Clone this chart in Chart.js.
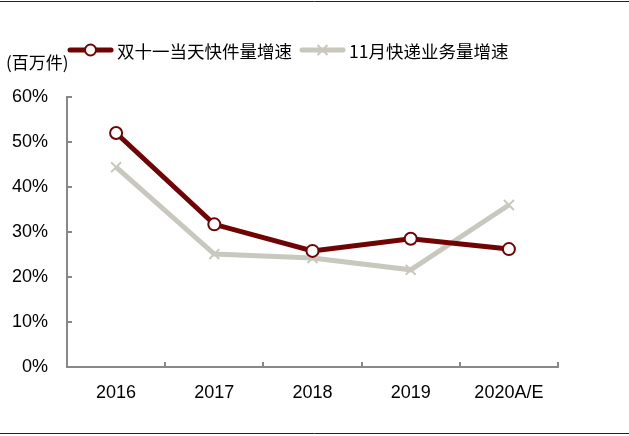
<!DOCTYPE html>
<html>
<head>
<meta charset="utf-8">
<script src="https://cdn.jsdelivr.net/npm/chart.js@4"></script>
<style>
  html, body { margin: 0; padding: 0; background: #fff; }
  #wrap { position: relative; width: 629px; height: 436px; }
</style>
</head>
<body>
<div id="wrap"><canvas id="c" width="629" height="436"></canvas></div>
<script>
// 双十一 vs 11月快递业务量增速
var years = ["2016", "2017", "2018", "2019", "2020A/E"];
var singlesDay = [52.0, 31.7, 25.8, 28.5, 26.2];
var novTotal = [44.4, 25.1, 24.2, 21.6, 36.0];
var seriesNames = ["双十一当天快件量增速", "11月快递业务量增速"];
var yTicks = [0, 10, 20, 30, 40, 50, 60];

var RED = "#700404", GRAY = "#c8c8be", AXIS = "#888888";
var FONT = "Arial, 'Liberation Sans', sans-serif";
var CJK = "'Noto Sans CJK SC', sans-serif";

// inward ticks, legend, unit label and frame lines
var decor = {
  id: "decor",
  afterDraw: function (chart) {
    var ctx = chart.ctx, a = chart.chartArea;
    var xs = chart.scales.x, ys = chart.scales.y;
    ctx.save();
    ctx.strokeStyle = AXIS; ctx.lineWidth = 2;
    ys.ticks.forEach(function (t, i) {
      var y = Math.round(ys.getPixelForTick(i));
      ctx.beginPath(); ctx.moveTo(a.left, y); ctx.lineTo(a.left + 5, y); ctx.stroke();
    });
    for (var i = 0; i <= years.length; i++) {
      var x = Math.round(xs.getPixelForValue(i - 0.5));
      ctx.beginPath(); ctx.moveTo(x, a.bottom); ctx.lineTo(x, a.bottom - 5); ctx.stroke();
    }
    // frame
    ctx.strokeStyle = "#5a0808"; ctx.lineWidth = 1;
    ctx.beginPath(); ctx.moveTo(0, 1.5); ctx.lineTo(629, 1.5); ctx.stroke();
    ctx.beginPath(); ctx.moveTo(0, 433.5); ctx.lineTo(629, 433.5); ctx.stroke();

    // unit label
    ctx.fillStyle = "#000"; ctx.font = "17px " + CJK; ctx.textBaseline = "middle"; ctx.textAlign = "left";
    ctx.fillText("(百万件)", 6, 63);

    // legend
    var items = [{ x: 68, ds: chart.data.datasets[0] }, { x: 300, ds: chart.data.datasets[1] }];
    items.forEach(function (it) {
      var ly = 50;
      ctx.strokeStyle = it.ds.borderColor; ctx.lineWidth = 5; ctx.lineCap = "round";
      ctx.beginPath(); ctx.moveTo(it.x + 2, ly); ctx.lineTo(it.x + 43, ly); ctx.stroke();
      var cx = it.x + 22.5;
      if (it.ds.pointStyle === "circle") {
        ctx.lineWidth = 2; ctx.fillStyle = "#fff";
        ctx.beginPath(); ctx.arc(cx, ly, 5.5, 0, Math.PI * 2); ctx.fill(); ctx.stroke();
      } else {
        ctx.lineWidth = 2; ctx.lineCap = "butt";
        ctx.beginPath();
        ctx.moveTo(cx - 5, ly - 5); ctx.lineTo(cx + 5, ly + 5);
        ctx.moveTo(cx + 5, ly - 5); ctx.lineTo(cx - 5, ly + 5);
        ctx.stroke();
      }
      ctx.fillStyle = "#000"; ctx.font = "17.5px " + CJK;
      ctx.fillText(it.ds.label, it.x + 49, ly + 1);
    });
    ctx.restore();
  }
};

new Chart(document.getElementById("c"), {
  type: "line",
  data: {
    labels: years,
    datasets: [
      { label: seriesNames[0], data: singlesDay, borderColor: RED, borderWidth: 5, order: 0,
        pointStyle: "circle", pointRadius: 6, pointBorderWidth: 2,
        pointBackgroundColor: "#fff", pointBorderColor: RED, tension: 0 },
      { label: seriesNames[1], data: novTotal, borderColor: GRAY, borderWidth: 5, order: 1,
        pointStyle: "crossRot", pointRadius: 7, pointBorderWidth: 2,
        pointBorderColor: GRAY, pointBackgroundColor: GRAY, tension: 0 }
    ]
  },
  options: {
    responsive: false, animation: false,
    layout: { padding: { left: 0, top: 97, right: 71, bottom: 0 } },
    plugins: { legend: { display: false }, tooltip: { enabled: false } },
    scales: {
      x: {
        offset: true,
        grid: { display: false, drawTicks: false },
        border: { color: AXIS, width: 2 },
        ticks: { color: "#000", font: { family: FONT, size: 18 }, padding: 15, maxRotation: 0 },
        afterFit: function (s) { s.height = 69; }
      },
      y: {
        min: 0, max: 60,
        afterBuildTicks: function (s) { s.ticks = yTicks.map(function (v) { return { value: v }; }); },
        grid: { display: false, drawTicks: false },
        border: { color: AXIS, width: 2 },
        ticks: { color: "#000", font: { family: FONT, size: 18 }, padding: 19,
          callback: function (v) { return v + "%"; } },
        afterFit: function (s) { s.width = 67; }
      }
    }
  },
  plugins: [decor]
});
</script>
</body>
</html>
